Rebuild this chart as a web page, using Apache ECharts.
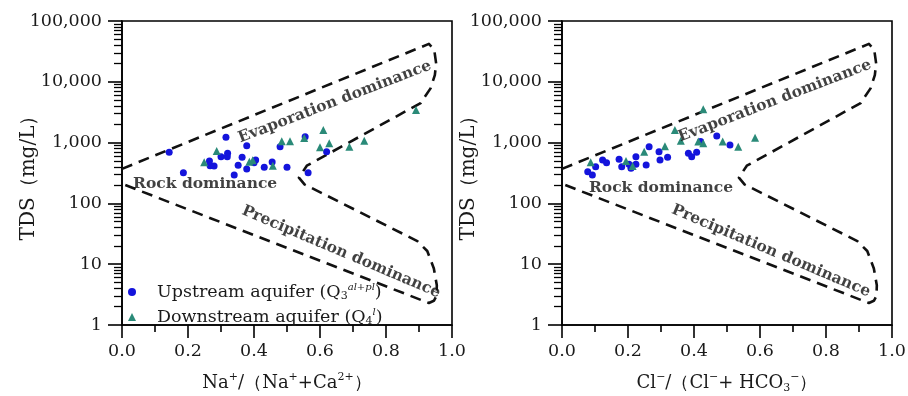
<!DOCTYPE html>
<html><head><meta charset="utf-8">
<script src="https://cdn.jsdelivr.net/npm/echarts@6/dist/echarts.min.js"></script>
<style>html,body{margin:0;padding:0;background:#fff}#c{width:908px;height:396px}</style>
</head><body><div id="c"></div>
<script>
// ---- tick values ----
const xTickVals = [0, 0.2, 0.4, 0.6, 0.8, 1.0];
const yTickVals = [1, 10, 100, 1000, 10000, 100000];

// ---- Gibbs boundary (dashed envelope) ----
const envX = [0.0, 0.930, 0.946, 0.952, 0.948, 0.935, 0.905, 0.560, 0.536, 0.553, 0.895, 0.925, 0.945, 0.954, 0.953, 0.945, 0.930, 0.0];
const envY = [370, 42000, 34000, 20000, 12900, 7800, 4470, 417, 265, 205, 24, 16.5, 8.5, 4.5, 3.0, 2.5, 2.3, 210];

// ---- Left panel: Na+/(Na+ + Ca2+) ----
const naUpX = [0.143, 0.315, 0.378, 0.186, 0.265, 0.267, 0.279, 0.300, 0.320, 0.319, 0.340, 0.352, 0.364, 0.378, 0.400, 0.405, 0.431, 0.455, 0.479, 0.500, 0.555, 0.564, 0.620];
const naUpY = [692, 1222, 889, 320, 498, 417, 412, 586, 667, 586, 293, 424, 573, 368, 467, 517, 393, 480, 857, 393, 1250, 320, 708];
const naDownX = [0.249, 0.287, 0.386, 0.396, 0.457, 0.484, 0.509, 0.552, 0.610, 0.600, 0.628, 0.689, 0.734, 0.891];
const naDownY = [475, 728, 485, 512, 417, 1050, 1050, 1191, 1611, 837, 973, 857, 1075, 3436];

// ---- Right panel: Cl-/(Cl- + HCO3-) ----
const clUpX = [0.078, 0.092, 0.102, 0.123, 0.135, 0.173, 0.181, 0.203, 0.209, 0.224, 0.224, 0.255, 0.264, 0.294, 0.297, 0.320, 0.383, 0.393, 0.408, 0.420, 0.469, 0.509];
const clUpY = [332, 293, 402, 518, 467, 531, 402, 440, 378, 586, 440, 429, 857, 708, 518, 573, 667, 586, 692, 1038, 1285, 914];
const clDownX = [0.087, 0.194, 0.214, 0.249, 0.312, 0.342, 0.360, 0.413, 0.428, 0.428, 0.487, 0.534, 0.585];
const clDownY = [475, 498, 412, 708, 873, 1611, 1075, 1038, 973, 3524, 1038, 857, 1205];

// ---- annotation texts (data coords) ----
const annoText = ['Evaporation dominance', 'Rock dominance', 'Precipitation dominance'];
const annoRot = [21, 0, -23];
const annoLeftX = [0.645, 0.252, 0.664];
const annoLeftY = [4656, 208, 15.9];
const annoRightX = [0.645, 0.300, 0.633];
const annoRightY = [4831, 179, 16.5];

const seriesNames = ['Upstream aquifer', 'Downstream aquifer'];

const FONT = 'DejaVu Serif';
const TXT = '#1a1a1a';
const BLUE = '#1414dc';
const TEAL = '#2a8a78';

function zip(a, b) { return a.map((v, i) => [v, b[i]]); }

function xAxisCfg(gridIndex, nameRich) {
  return {
    type: 'value', gridIndex, min: 0, max: 1, interval: 0.2,
    name: nameRich, nameLocation: 'middle', nameGap: 47, nameMoveOverlap: false,
    nameTextStyle: {
      fontFamily: FONT, fontSize: 18, color: TXT, lineHeight: 22,
      rich: {
        sup: { fontFamily: FONT, fontSize: 11, verticalAlign: 'top', lineHeight: 22, color: TXT },
        sub: { fontFamily: FONT, fontSize: 11, verticalAlign: 'bottom', lineHeight: 22, color: TXT }
      }
    },
    axisLine: { show: true, onZero: false, lineStyle: { color: '#000', width: 1.6 } },
    axisTick: { show: true, inside: false, length: 13, lineStyle: { color: '#000', width: 1.6 } },
    minorTick: { show: true, splitNumber: 2, length: 7, lineStyle: { color: '#000', width: 1.6 } },
    splitLine: { show: false },
    axisLabel: { margin: 17, fontFamily: FONT, fontSize: 17.5, color: TXT, formatter: v => v.toFixed(1) }
  };
}

function yAxisCfg(gridIndex) {
  return {
    type: 'log', logBase: 10, gridIndex, min: yTickVals[0], max: yTickVals[yTickVals.length - 1],
    name: 'TDS（mg/L）', nameLocation: 'middle', nameGap: 83, nameRotate: 90, nameMoveOverlap: false,
    nameTextStyle: { fontFamily: FONT, fontSize: 20, color: TXT },
    axisLine: { show: true, onZero: false, lineStyle: { color: '#000', width: 1.6 } },
    axisTick: { show: true, inside: false, length: 14, lineStyle: { color: '#000', width: 1.6 } },
    minorTick: { show: true, splitNumber: 9, length: 8, lineStyle: { color: '#000', width: 1.3 } },
    splitLine: { show: false },
    minorSplitLine: { show: false },
    axisLabel: { margin: 20, fontFamily: FONT, fontSize: 17.5, color: TXT,
      formatter: v => Math.round(v).toLocaleString('en-US') }
  };
}

function envSeries(i) {
  return {
    type: 'line', xAxisIndex: i, yAxisIndex: i, data: zip(envX, envY),
    symbol: 'none', smooth: false, silent: true, z: 1,
    lineStyle: { color: '#111', width: 2.6, type: [11, 7], join: 'round' }
  };
}
function scat(i, name, xs, ys, sym, size, color) {
  return {
    type: 'scatter', name, xAxisIndex: i, yAxisIndex: i, data: zip(xs, ys),
    symbol: sym, symbolSize: size, itemStyle: { color, opacity: 1 }, z: 3
  };
}
function annoSeries(i, xs, ys) {
  return {
    type: 'scatter', xAxisIndex: i, yAxisIndex: i, symbolSize: 0, silent: true, z: 4,
    data: xs.map((x, k) => ({
      value: [x, ys[k]],
      label: { show: true, position: 'inside', formatter: annoText[k], rotate: annoRot[k],
        fontFamily: FONT, fontWeight: 'bold', fontSize: 15.5, color: '#111' }
    }))
  };
}

const gridBase = { top: 21, width: 330, height: 304, show: true, borderColor: '#000', borderWidth: 1.6,
  backgroundColor: 'transparent', containLabel: false, outerBoundsMode: 'none' };

const chart = echarts.init(document.getElementById('c'), null, { renderer: 'canvas' });
chart.setOption({
  animation: false,
  backgroundColor: '#fff',
  grid: [
    Object.assign({ left: 122 }, gridBase),
    Object.assign({ left: 562 }, gridBase)
  ],
  xAxis: [
    xAxisCfg(0, 'Na{sup|+}/（Na{sup|+}+Ca{sup|2+}）'),
    xAxisCfg(1, 'Cl{sup|−}/（Cl{sup|−}+ HCO{sub|3}{sup|−}）')
  ],
  yAxis: [yAxisCfg(0), yAxisCfg(1)],
  legend: {
    orient: 'vertical', left: 123, top: 277, itemWidth: 8, itemHeight: 8, itemGap: 5,
    selectedMode: false,
    data: [{ name: seriesNames[0], icon: 'circle' }, { name: seriesNames[1], icon: 'triangle' }],
    formatter: n => '{pad| }' + (n === seriesNames[0] ? n + ' (Q{sub|3}{sup|al+pl})' : n + ' (Q{sub|4}{sup|l})'),
    textStyle: {
      fontFamily: FONT, fontSize: 17.5, color: TXT, lineHeight: 20,
      rich: {
        pad: { width: 16, lineHeight: 20 },
        sup: { fontFamily: FONT, fontSize: 10, fontStyle: 'italic', verticalAlign: 'top', lineHeight: 20, color: TXT },
        sub: { fontFamily: FONT, fontSize: 11, verticalAlign: 'bottom', lineHeight: 20, color: TXT }
      }
    }
  },
  series: [
    envSeries(0),
    scat(0, seriesNames[0], naUpX, naUpY, 'circle', 7, BLUE),
    scat(0, seriesNames[1], naDownX, naDownY, 'triangle', 8, TEAL),
    annoSeries(0, annoLeftX, annoLeftY),
    envSeries(1),
    scat(1, seriesNames[0], clUpX, clUpY, 'circle', 7, BLUE),
    scat(1, seriesNames[1], clDownX, clDownY, 'triangle', 8, TEAL),
    annoSeries(1, annoRightX, annoRightY)
  ]
});
</script></body></html>
